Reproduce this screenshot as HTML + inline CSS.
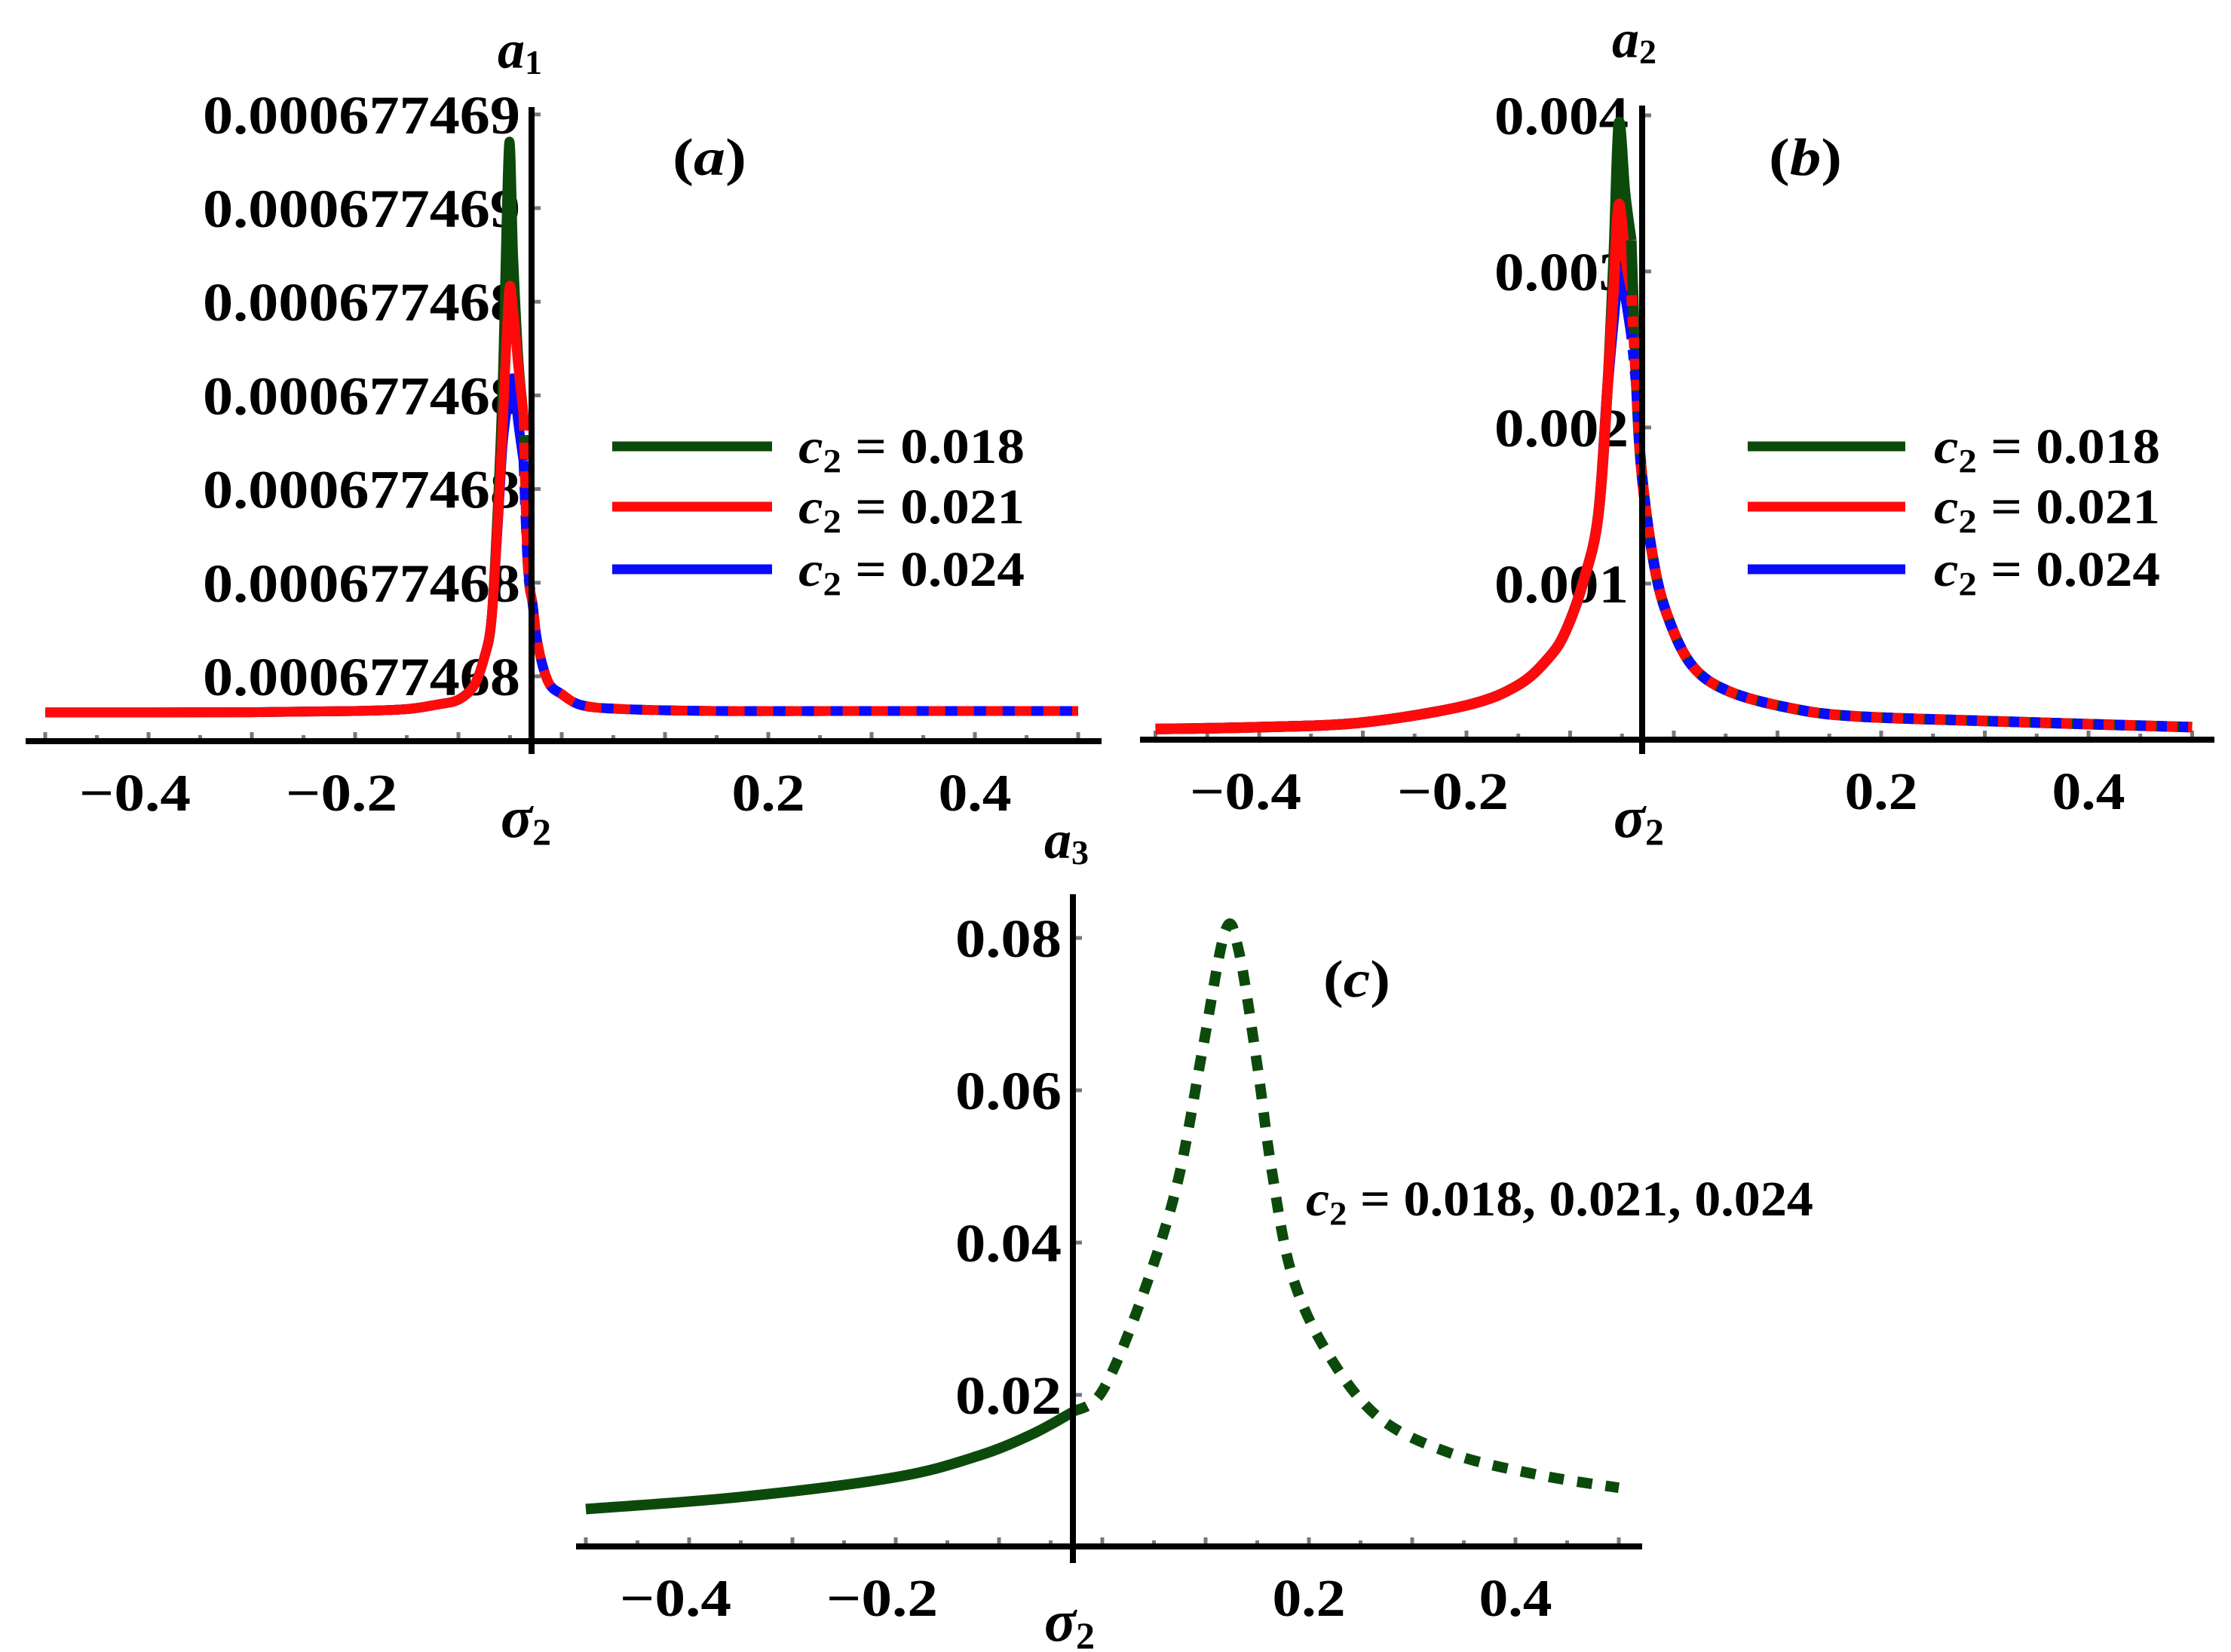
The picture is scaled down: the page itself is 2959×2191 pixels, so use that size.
<!DOCTYPE html>
<html><head><meta charset="utf-8"><style>
html,body{margin:0;padding:0;background:#fff;}
svg{display:block;font-family:"Liberation Serif","DejaVu Serif",serif;font-weight:bold;}
</style></head><body>
<svg id="fig" width="2959" height="2191" viewBox="0 0 2959 2191" xmlns="http://www.w3.org/2000/svg"></svg>
<script>
// ---------- Panel (a) data (values in tick-index units; all tick labels print the same number)
const aTickVals = [0,1,2,3,4,5,6];
const aTickLabels = ["0.000677468","0.000677468","0.000677468","0.000677468","0.000677468","0.000677469","0.000677469"];
const aSigmaSolid = [-0.5,-0.3,-0.2,-0.15,-0.12,-0.1,-0.085,-0.075,-0.068,-0.062,-0.057,-0.051,-0.047,-0.042,-0.037];
const aGreenSolid = [-0.386,-0.383,-0.37,-0.35,-0.30,-0.25,-0.10,0.2,0.6,1.8,3.2,5.68,4.5,3.4,2.8];
const aRedSolid   = [-0.386,-0.383,-0.37,-0.35,-0.30,-0.25,-0.10,0.2,0.6,1.64,2.7,4.1,3.9,3.3,2.8];
const aBlueSolid  = [-0.386,-0.383,-0.37,-0.35,-0.30,-0.25,-0.10,0.2,0.6,1.6,2.5,3.0,3.17,2.7,2.3];
const aSigmaDash = [-0.037,-0.033,-0.028,-0.023,-0.013,0,0.02,0.06,0.15,0.3,0.5];
const aGreenDash = [2.8,1.21,0.76,0.33,-0.06,-0.19,-0.31,-0.35,-0.37,-0.37,-0.37];
const aRedDash   = [2.8,1.21,0.76,0.33,-0.06,-0.19,-0.31,-0.35,-0.37,-0.37,-0.37];
const aBlueDash  = [2.3,1.21,0.76,0.33,-0.06,-0.19,-0.31,-0.35,-0.37,-0.37,-0.37];

// ---------- Panel (b) data
const bTickVals = [0.001,0.002,0.003,0.004];
const bTickLabels = ["0.001","0.002","0.003","0.004"];
const bSigmaSolid = [-0.5,-0.4,-0.3,-0.2,-0.15,-0.12,-0.104,-0.087,-0.073,-0.064,-0.058,-0.053,-0.047,-0.041];
const bGreenSolid = [0.000068,0.00008,0.00011,0.00022,0.00035,0.00053,0.0007,0.00102,0.00143,0.00225,0.0031,0.00395,0.0035,0.0032];
const bRedSolid   = [0.000068,0.00008,0.00011,0.00022,0.00035,0.00053,0.0007,0.00102,0.00143,0.00225,0.0029,0.00343,0.0031,0.00288];
const bBlueSolid  = [0.000068,0.00008,0.00011,0.00022,0.00035,0.00053,0.0007,0.00102,0.00143,0.00225,0.0027,0.0030,0.00285,0.0026];
const bSigmaDash = [-0.041,-0.036,-0.031,-0.02,-0.007,0.017,0.053,0.114,0.175,0.3,0.5];
const bGreenDash = [0.0032,0.00225,0.00171,0.00116,0.00081,0.00048,0.00031,0.0002,0.00015,0.00012,0.00008];
const bRedDash   = [0.00288,0.00225,0.00171,0.00116,0.00081,0.00048,0.00031,0.0002,0.00015,0.00012,0.00008];
const bBlueDash  = [0.0026,0.00225,0.00171,0.00116,0.00081,0.00048,0.00031,0.0002,0.00015,0.00012,0.00008];

// ---------- Panel (c) data
const cTickVals = [0.02,0.04,0.06,0.08];
const cTickLabels = ["0.02","0.04","0.06","0.08"];
const cSigmaSolid = [-0.5,-0.35,-0.2,-0.12,-0.067,-0.028];
const cSolid = [0.0050,0.0066,0.0092,0.0120,0.0149,0.0178];
const cSigmaDash = [-0.028,0.0,0.037,0.072,0.097,0.119,0.132,0.15,0.164,0.184,0.219,0.268,0.338,0.422,0.5];
const cDash = [0.0178,0.0205,0.0323,0.0474,0.0653,0.0809,0.0784,0.0633,0.0495,0.0356,0.0253,0.017,0.0123,0.0095,0.0078];

const xTickVals = [-0.4,-0.2,0.2,0.4];
const xTickLabels = ["\u22120.4","\u22120.2","0.2","0.4"];
const legendLabels = ["0.018","0.021","0.024"];

const NS = "http://www.w3.org/2000/svg";
const svg = document.getElementById('fig');
function el(tag, attrs, parent){ const e=document.createElementNS(NS,tag); for(const k in attrs) e.setAttribute(k,attrs[k]); (parent||svg).appendChild(e); return e; }

function smoothPath(pts){
  let d = "M"+pts[0][0].toFixed(1)+","+pts[0][1].toFixed(1);
  for(let i=0;i<pts.length-1;i++){
    const p0=pts[Math.max(0,i-1)], p1=pts[i], p2=pts[i+1], p3=pts[Math.min(pts.length-1,i+2)];
    const c1=[p1[0]+(p2[0]-p0[0])/6, p1[1]+(p2[1]-p0[1])/6];
    const c2=[p2[0]-(p3[0]-p1[0])/6, p2[1]-(p3[1]-p1[1])/6];
    d += " C"+c1[0].toFixed(1)+","+c1[1].toFixed(1)+" "+c2[0].toFixed(1)+","+c2[1].toFixed(1)+" "+p2[0].toFixed(1)+","+p2[1].toFixed(1);
  }
  return d;
}
function linePath(pts){ return "M"+pts.map(p=>p[0].toFixed(1)+","+p[1].toFixed(1)).join(" L"); }

function panel(cfg){
  const g = el('g',{});
  
  
  const X = s => cfg.x0 + s*cfg.xs;
  const Y = v => cfg.y0 - v*cfg.ys;
  for(let k=-10;k<=10;k++){
    const s=k*0.05, len = (k%2===0)?12:8;
    const t = el('line',{x1:X(s),x2:X(s),y1:cfg.axY,y2:cfg.axY-len,stroke:'#777','stroke-width':5},g);
    
    
  }
  cfg.yTicks.forEach((v,i)=>{
    const t = el('line',{x1:cfg.axX,x2:cfg.axX+12,y1:Y(v),y2:Y(v),stroke:'#777','stroke-width':5},g);
    
    
    const tx = el('text',{x:cfg.yLabRight,y:Y(v)+25,'text-anchor':'end','font-size':cfg.yFont,textLength:cfg.yLabW,lengthAdjust:'spacingAndGlyphs'},g);
    tx.textContent = cfg.yLabels[i];
    
    
  });
  xTickVals.forEach((s,i)=>{
    const neg = s<0;
    const tx = el('text',{x:X(s)+(neg?-18:0),y:cfg.axY+92,'text-anchor':'middle','font-size':70,textLength:neg?148:97,lengthAdjust:'spacingAndGlyphs'},g);
    tx.textContent = xTickLabels[i];
    
    
  });
  cfg.series.forEach(sr=>{
    const pts = sr.s.map((s,i)=>[X(s),Y(sr.v[i])]);
    const p = el('path',{d: sr.smooth?smoothPath(pts):linePath(pts), fill:'none', stroke:sr.color,'stroke-width':sr.w||13,'stroke-linejoin':'round','stroke-linecap':'butt'},g);
    if(sr.dash) p.setAttribute('stroke-dasharray',sr.dash);
    if(sr.off) p.setAttribute('stroke-dashoffset',sr.off);
    
    
  });
  const xa = el('line',{x1:cfg.axX1,x2:cfg.axX2,y1:cfg.axY,y2:cfg.axY,stroke:'#000','stroke-width':8},g);
  
  
  const ya = el('line',{x1:cfg.axX,x2:cfg.axX,y1:cfg.axYTop,y2:cfg.axYBot,stroke:'#000','stroke-width':8},g);
  
  
  return g;
}

const GREEN='#0c4a0c', RED='#ff0a0a', BLUE='#0a0aff';

panel({name:'panel-a', x0:745, xs:1370, y0:897, ys:124.2, axX:705, axY:983, axX1:34, axX2:1461, axYTop:142, axYBot:1000,
  yTicks:aTickVals, yLabels:aTickLabels, yLabRight:690, yLabW:421, yFont:72,
  series:[
    {name:'a1-green-stable', s:aSigmaSolid, v:aGreenSolid, color:GREEN, smooth:true},
    {name:'a1-blue-stable', s:aSigmaSolid, v:aBlueSolid, color:BLUE, smooth:true},
    {name:'a1-red-stable', s:aSigmaSolid, v:aRedSolid, color:RED, smooth:true},
    {name:'a1-green-unstable', s:aSigmaDash, v:aGreenDash, color:GREEN, smooth:true, dash:'24 14', off:10},
    {name:'a1-blue-unstable', s:aSigmaDash, v:aBlueDash, color:BLUE, smooth:true, dash:'24 14', off:4},
    {name:'a1-red-unstable', s:aSigmaDash, v:aRedDash, color:RED, smooth:true, dash:'22 16'}
  ]});

panel({name:'panel-b', x0:2220, xs:1375, y0:981, ys:207000, axX:2178, axY:981, axX1:1512, axX2:2937, axYTop:140, axYBot:1000,
  yTicks:bTickVals, yLabels:bTickLabels, yLabRight:2160, yLabW:178, yFont:72,
  series:[
    {name:'a2-green-stable', s:bSigmaSolid, v:bGreenSolid, color:GREEN, w:14, smooth:true},
    {name:'a2-blue-stable', s:bSigmaSolid, v:bBlueSolid, color:BLUE, w:14, smooth:true},
    {name:'a2-red-stable', s:bSigmaSolid, v:bRedSolid, color:RED, w:14, smooth:true},
    {name:'a2-green-unstable', s:bSigmaDash, v:bGreenDash, color:GREEN, smooth:true, w:14},
    {name:'a2-blue-unstable', s:bSigmaDash, v:bBlueDash, color:BLUE, smooth:true, w:14, dash:'14 14', off:7},
    {name:'a2-red-unstable', s:bSigmaDash, v:bRedDash, color:RED, smooth:true, w:14, dash:'14 14', off:21}
  ]});

panel({name:'panel-c', x0:1462, xs:1370, y0:2052, ys:10100, axX:1423, axY:2051, axX1:764, axX2:2178, axYTop:1186, axYBot:2073,
  yTicks:cTickVals, yLabels:cTickLabels, yLabRight:1408, yLabW:141, yFont:72,
  series:[
    {name:'a3-stable', s:cSigmaSolid, v:cSolid, color:GREEN, smooth:true, w:14},
    {name:'a3-unstable', s:cSigmaDash, v:cDash, color:GREEN, smooth:true, w:14, dash:'20 18'}
  ]});

function legend(name, lx1, lx2, tx){
  const ys=[592,672,755], cols=[GREEN,RED,BLUE];
  const g = el('g',{});
  
  
  ys.forEach((y,i)=>{
    const ln = el('line',{x1:lx1,x2:lx2,y1:y,y2:y,stroke:cols[i],'stroke-width':13},g);
    
    
    const t = el('text',{x:tx,y:y+22,'font-size':66,textLength:300,lengthAdjust:'spacingAndGlyphs'},g);
    t.innerHTML = '<tspan font-style="italic">c</tspan><tspan font-size="44" dy="12">2</tspan><tspan dy="-12"> = '+legendLabels[i]+'</tspan>';
    
    
  });
}
legend('legend-a', 812, 1024, 1059);
legend('legend-b', 2318, 2527, 2565);

function label(name, x, y, html, size, tl){
  const t = el('text',{x:x,y:y,'font-size':size});
  if(tl){ t.setAttribute('textLength',tl); t.setAttribute('lengthAdjust','spacingAndGlyphs'); }
  t.innerHTML = html;
  
  
}
label('y-axis-title-a1', 660, 90, '<tspan font-style="italic">a</tspan><tspan font-size="46" dy="8">1</tspan>', 72);
label('y-axis-title-a2', 2138, 76, '<tspan font-style="italic">a</tspan><tspan font-size="46" dy="8">2</tspan>', 72);
label('y-axis-title-a3', 1385, 1138, '<tspan font-style="italic">a</tspan><tspan font-size="46" dy="8">3</tspan>', 72);
label('x-axis-title-a', 664, 1110, '<tspan font-style="italic">σ</tspan><tspan font-size="50" dy="10">2</tspan>', 78);
label('x-axis-title-b', 2140, 1110, '<tspan font-style="italic">σ</tspan><tspan font-size="50" dy="10">2</tspan>', 78);
label('x-axis-title-c', 1385, 2176, '<tspan font-style="italic">σ</tspan><tspan font-size="50" dy="10">2</tspan>', 78);
label('panel-label-a', 892, 232, '(<tspan font-style="italic">a</tspan>)', 70, 98);
label('panel-label-b', 2346, 232, '(<tspan font-style="italic">b</tspan>)', 70, 97);
label('panel-label-c', 1755, 1322, '(<tspan font-style="italic">c</tspan>)', 70, 89);
label('curve-annotation-c', 1732, 1612, '<tspan font-style="italic">c</tspan><tspan font-size="44" dy="12">2</tspan><tspan dy="-12"> = 0.018, 0.021, 0.024</tspan>', 66, 673);
</script>
</body></html>
